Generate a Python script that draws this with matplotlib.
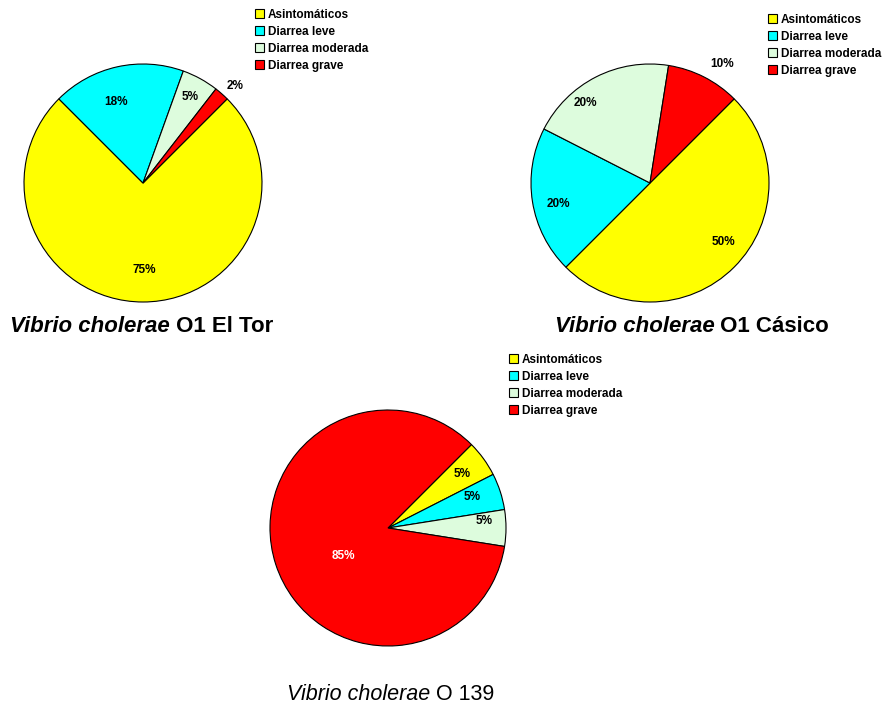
import numpy as np
import matplotlib
matplotlib.use("Agg")
import matplotlib.pyplot as plt
from matplotlib.patches import Patch

# categories and colours
categorias = ["Asintomáticos", "Diarrea leve", "Diarrea moderada", "Diarrea grave"]
colores = ["#FFFF00", "#00FFFF", "#DDFCDD", "#FF0000"]

# percentages per serogroup
el_tor = [75, 18, 5, 2]
clasico = [50, 20, 20, 10]
o139 = [5, 5, 5, 85]

plt.rcParams['font.family'] = ['Liberation Sans', 'DejaVu Sans']

W, H = 884, 709
fig = plt.figure(figsize=(W/100, H/100), dpi=100)


def pie(cx, cy, r, vals, dist, giro, txtcol):
    "draws one pie, centre and radius in pixels from the top left"
    ax = fig.add_axes([(cx-r)/W, 1-(cy+r)/H, 2*r/W, 2*r/H])
    wedges, _ = ax.pie(vals, colors=colores, startangle=45, counterclock=False,
                       wedgeprops=dict(edgecolor='black', linewidth=0.8))
    # percentage labels, each at its own distance / angle shift (as excel puts them)
    for w, v, d, g, c in zip(wedges, vals, dist, giro, txtcol):
        a = np.deg2rad((w.theta1 + w.theta2)/2 + g)
        ax.text(d*np.cos(a), d*np.sin(a), str(v)+'%', ha='center', va='center',
                fontsize=8.5, fontweight='bold', color=c, clip_on=False)
    ax.set_xlim(-1, 1)
    ax.set_ylim(-1, 1)
    ax.set_aspect('equal')
    ax.axis('off')
    return ax


def leyenda(x, y):
    h = [Patch(facecolor=c, edgecolor='black', linewidth=0.8) for c in colores]
    fig.legend(h, categorias, loc='upper left', bbox_to_anchor=(x/W, 1-y/H),
               frameon=False, borderpad=0, borderaxespad=0, handlelength=0.8,
               handleheight=0.8, handletextpad=0.3, labelspacing=0.42,
               prop=dict(size=8.5, weight='bold'))


def titulo(cx, cy, it, resto, size, peso):
    "italic species name followed by upright serogroup, centred together"
    r = fig.canvas.get_renderer()
    a = fig.text(0, 0, it, style='italic', fontsize=size, fontweight=peso, va='center')
    b = fig.text(0, 0, ' ' + resto, fontsize=size, fontweight=peso, va='center')
    wa = a.get_window_extent(r).width
    wb = b.get_window_extent(r).width
    x0 = cx - (wa + wb)/2
    a.set_position((x0/W, 1-cy/H))
    b.set_position(((x0+wa)/W, 1-cy/H))


pie(143, 183, 119, el_tor, [0.73, 0.72, 0.82, 1.12], [1, 6, 0, -2], ['black']*4)
pie(650, 183, 119, clasico, [0.79, 0.79, 0.86, 1.17], [6, 4, 12, -4], ['black']*4)
pie(388, 528, 118, o139, [0.78, 0.76, 0.82, 0.45], [0, 2, 4, 14], ['black']*3 + ['white'])

leyenda(255, 9)
leyenda(768, 14)
leyenda(509, 354)

titulo(142, 327, 'Vibrio cholerae', 'O1 El Tor', 16, 'bold')
titulo(692, 327, 'Vibrio cholerae', 'O1 Cásico', 16, 'bold')
titulo(391, 695, 'Vibrio cholerae', 'O 139', 15.5, 'normal')

fig.savefig('out.png', dpi=100)
